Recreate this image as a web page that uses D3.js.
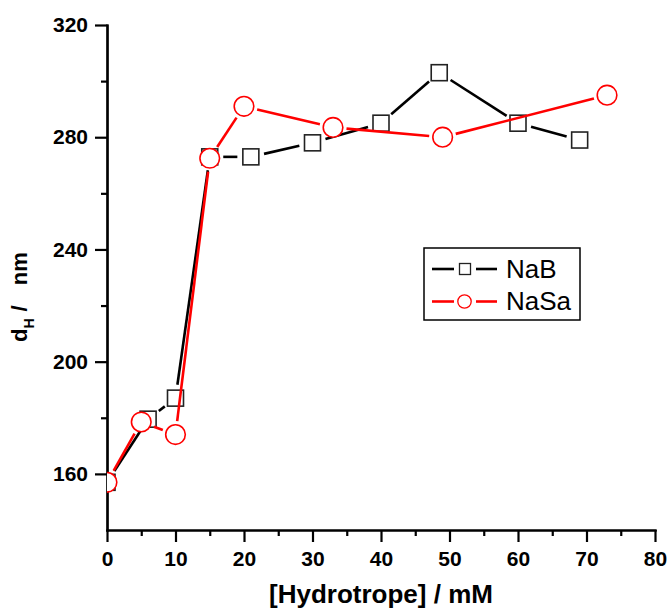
<!DOCTYPE html>
<meta charset="utf-8">
<style>
body {
  margin: 0;
  background: #fff;
  font-family: Arial, "Liberation Sans", Helvetica, sans-serif;
}
.axis path, .axis line {
  stroke: #000;
  stroke-width: 2.2;
}
.axis text {
  font-family: Arial, "Liberation Sans", sans-serif;
  font-weight: bold;
  font-size: 21px;
  fill: #000;
}
</style>
<svg width="668" height="615"></svg>
<script src="https://cdn.jsdelivr.net/npm/d3@7/dist/d3.min.js"></script>
<script>

// series data
var nabX = [0, 6, 10, 15, 21, 30, 40, 48.5, 60, 69];
var nabY = [157, 179.5, 187, 273, 273, 278, 285, 303, 285, 279];
var nasaX = [0, 5, 10, 15, 20, 33, 49, 73];
var nasaY = [157, 178.5, 174, 272.5, 291, 283.5, 280, 295];

var xTicks = [0, 10, 20, 30, 40, 50, 60, 70, 80];
var yTicks = [160, 200, 240, 280, 320];
var seriesNames = ["NaB", "NaSa"];

var svg = d3.select("svg");

var margin = {left: 107, top: 25};

var x = d3.scaleLinear().domain([0, 80]).range([0, 548]);
var y = d3.scaleLinear().domain([140, 320]).range([505, 0]);

var g = svg.append("g").attr("transform", "translate(" + margin.left + "," + margin.top + ")");

// clip so markers at x=0 get cut at the axis
svg.append("defs").append("clipPath").attr("id", "plotclip")
  .append("rect").attr("x", 0).attr("y", -20).attr("width", 560).attr("height", 525);

// axes: major ticks with labels, minor ticks without
g.append("g").attr("class", "axis").attr("transform", "translate(0," + y(140) + ")")
  .call(d3.axisBottom(x).tickValues(xTicks).tickSize(12).tickSizeOuter(0).tickPadding(9));
g.append("g").attr("class", "axis").attr("transform", "translate(0," + y(140) + ")")
  .call(d3.axisBottom(x).tickValues(d3.range(5, 80, 10)).tickSize(6).tickFormat("").tickSizeOuter(0));

g.append("g").attr("class", "axis")
  .call(d3.axisLeft(y).tickValues(yTicks).tickSize(12).tickSizeOuter(0).tickPadding(7));
g.append("g").attr("class", "axis")
  .call(d3.axisLeft(y).tickValues([180, 220, 260, 300]).tickSize(6).tickFormat("").tickSizeOuter(0));
g.selectAll(".axis path").attr("stroke-linecap", "square");

// axis titles
svg.append("text")
  .attr("x", 381).attr("y", 603)
  .attr("text-anchor", "middle")
  .style("font-weight", "bold").style("font-size", "26px")
  .text("[Hydrotrope] / mM");

var yl = svg.append("text")
  .attr("transform", "translate(27,342) rotate(-90)")
  .attr("text-anchor", "start")
  .style("font-weight", "bold").style("font-size", "22px");
yl.append("tspan").text("d");
yl.append("tspan").attr("dy", 7).style("font-size", "14px").text("H");
yl.append("tspan").attr("dy", -7).attr("dx", 7).text("/");
yl.append("tspan").attr("dx", 20).text("nm");

// line segments shortened so they stop short of markers
function segments(xs, ys, gap) {
  var out = [];
  for (var i = 0; i < xs.length - 1; i++) {
    var x1 = x(xs[i]), y1 = y(ys[i]), x2 = x(xs[i + 1]), y2 = y(ys[i + 1]);
    var dx = x2 - x1, dy = y2 - y1, len = Math.sqrt(dx * dx + dy * dy);
    if (len <= 2 * gap) continue;
    var ux = dx / len, uy = dy / len;
    out.push([x1 + ux * gap, y1 + uy * gap, x2 - ux * gap, y2 - uy * gap]);
  }
  return out;
}

var plot = g.append("g").attr("clip-path", "url(#plotclip)");

// NaB
plot.selectAll(".nabline").data(segments(nabX, nabY, 13.5)).enter().append("line")
  .attr("x1", function(d){return d[0];}).attr("y1", function(d){return d[1];})
  .attr("x2", function(d){return d[2];}).attr("y2", function(d){return d[3];})
  .attr("stroke", "#000").attr("stroke-width", 2.6);
plot.selectAll(".nabpt").data(d3.zip(nabX, nabY)).enter().append("rect")
  .attr("x", function(d){return x(d[0]) - 8;}).attr("y", function(d){return y(d[1]) - 8;})
  .attr("width", 16).attr("height", 16)
  .attr("fill", "#fff").attr("stroke", "#222").attr("stroke-width", 1.6);

// NaSa
plot.selectAll(".nasaline").data(segments(nasaX, nasaY, 13.5)).enter().append("line")
  .attr("x1", function(d){return d[0];}).attr("y1", function(d){return d[1];})
  .attr("x2", function(d){return d[2];}).attr("y2", function(d){return d[3];})
  .attr("stroke", "#f00").attr("stroke-width", 2.6);
plot.selectAll(".nasapt").data(d3.zip(nasaX, nasaY)).enter().append("circle")
  .attr("cx", function(d){return x(d[0]);}).attr("cy", function(d){return y(d[1]);})
  .attr("r", 9.8)
  .attr("fill", "#fff").attr("stroke", "#f00").attr("stroke-width", 1.6);

// legend
var leg = svg.append("g");
leg.append("rect").attr("x", 424).attr("y", 248).attr("width", 156).attr("height", 72)
  .attr("fill", "#fff").attr("stroke", "#000").attr("stroke-width", 1.5);
var colors = ["#000", "#f00"];
seriesNames.forEach(function(name, i) {
  var ly = 269 + i * 32.5;
  leg.append("line").attr("x1", 432).attr("x2", 454).attr("y1", ly).attr("y2", ly)
    .attr("stroke", colors[i]).attr("stroke-width", 2.6);
  leg.append("line").attr("x1", 476).attr("x2", 497).attr("y1", ly).attr("y2", ly)
    .attr("stroke", colors[i]).attr("stroke-width", 2.6);
  if (i === 0) {
    leg.append("rect").attr("x", 459.5).attr("y", ly - 5.5).attr("width", 11).attr("height", 11)
      .attr("fill", "#fff").attr("stroke", "#222").attr("stroke-width", 1.3);
  } else {
    leg.append("circle").attr("cx", 464.5).attr("cy", ly).attr("r", 6.7)
      .attr("fill", "#fff").attr("stroke", "#f00").attr("stroke-width", 1.3);
  }
  leg.append("text").attr("x", 506).attr("y", ly + 8.5)
    .style("font-size", "26px").text(name);
});

</script>
